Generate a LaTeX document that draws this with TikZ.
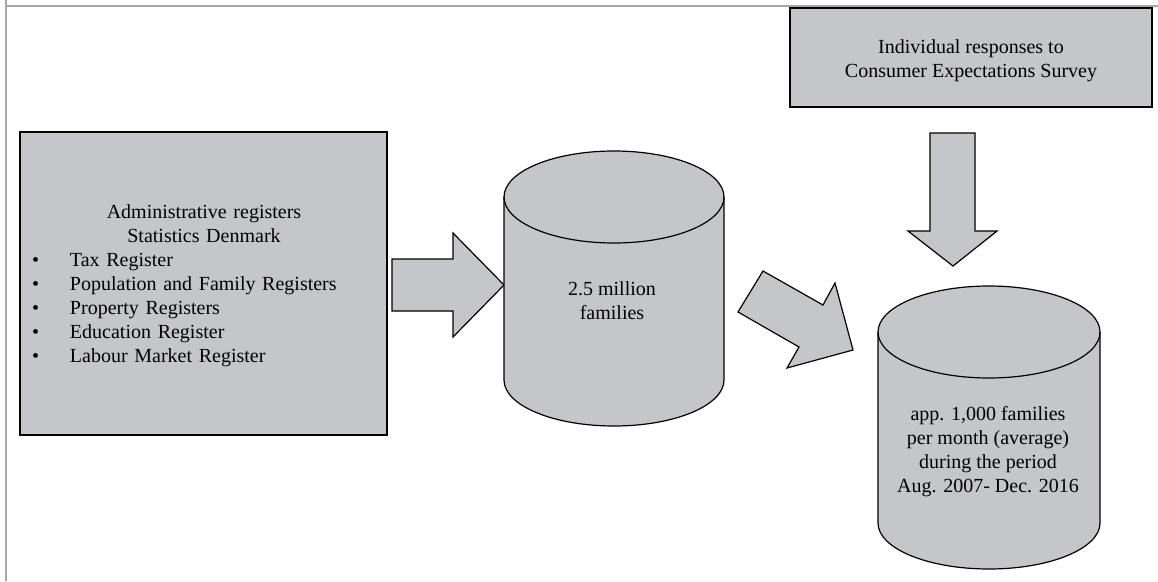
\documentclass[tikz,border=0pt]{standalone}
\usepackage{fontspec}
\setmainfont{Liberation Serif}
\begin{document}
\begin{tikzpicture}[x=1pt,y=1pt]
\definecolor{boxfill}{RGB}{197,198,202}
\definecolor{framegray}{RGB}{166,166,166}
\tikzset{
  box/.style={draw=black, line width=1.6pt, fill=boxfill, inner sep=0pt},
  shapeline/.style={draw=black, line width=1.2pt, fill=boxfill, line join=miter},
  txt/.style={font=\fontsize{20}{24}\selectfont, inner sep=0pt, align=center, text=black},
  frame/.style={draw=framegray, line width=2pt}
}
\useasboundingbox (0,0) rectangle (1158,-581);
% page frame
\draw[frame] (6,0) -- (6,-581);
\draw[frame] (6,-6) -- (1158,-6);

% administrative registers box
\node[box, minimum width=367pt, minimum height=303pt] (admin) at (203.5,-283.5) {};
\node[txt, text width=344pt] (admintxt) at (204,-286) {%
Administrative registers\\
Statistics Denmark\\
\makebox[344pt][l]{\makebox[38pt][l]{\textbullet}Tax Register}\\
\makebox[344pt][l]{\makebox[38pt][l]{\textbullet}Population and Family Registers}\\
\makebox[344pt][l]{\makebox[38pt][l]{\textbullet}Property Registers}\\
\makebox[344pt][l]{\makebox[38pt][l]{\textbullet}Education Register}\\
\makebox[344pt][l]{\makebox[38pt][l]{\textbullet}Labour Market Register}};

% survey box
\node[box, minimum width=362pt, minimum height=99pt] (survey) at (971,-57.5) {};
\node[txt] (surveytxt) at (971,-61) {Individual responses to\\Consumer Expectations Survey};

% right block arrow
\draw[shapeline] (392,-259) -- (453,-259) -- (453,-233) -- (504,-285) -- (453,-337) -- (453,-311) -- (392,-311) -- cycle;

% cylinder 1
\draw[shapeline] (504,-197) -- (504,-380) arc[start angle=180,end angle=360,x radius=110,y radius=46]
  -- (724,-197) arc[start angle=0,end angle=180,x radius=110,y radius=46] -- cycle;
\draw[line width=1.2pt] (504,-197) arc[start angle=180,end angle=360,x radius=110,y radius=46];
\node[txt] (fam) at (612,-301) {2.5 million\\ families};

% diagonal block arrow
\draw[shapeline] (738,-312) -- (763,-271) -- (823,-305) -- (835,-283) -- (853,-350) -- (787,-368) -- (799,-347) -- cycle;

% down block arrow
\draw[shapeline] (930,-133) -- (975,-133) -- (975,-231) -- (997,-231) -- (953,-266) -- (908,-231) -- (930,-231) -- cycle;

% cylinder 2
\draw[shapeline] (878,-332) -- (878,-523) arc[start angle=180,end angle=360,x radius=111,y radius=46]
  -- (1100,-332) arc[start angle=0,end angle=180,x radius=111,y radius=46] -- cycle;
\draw[line width=1.2pt] (878,-332) arc[start angle=180,end angle=360,x radius=111,y radius=46];
\node[txt] (sample) at (988,-452) {app. 1,000 families\\ per month (average)\\ during the period\\ Aug. 2007- Dec. 2016};
\end{tikzpicture}
\end{document}
